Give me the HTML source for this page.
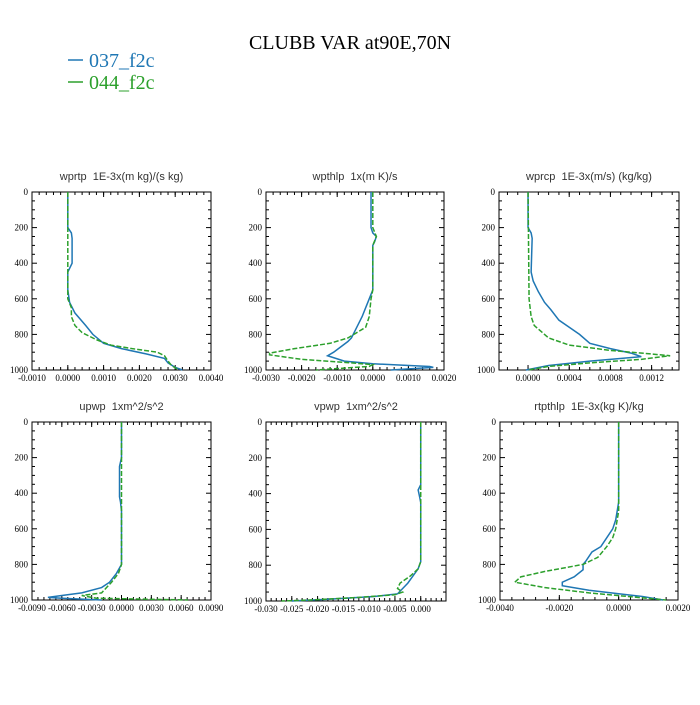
<!DOCTYPE html>
<html><head><meta charset="utf-8"><style>
body{margin:0;background:#fff;width:700px;height:700px;overflow:hidden}
svg text{font-family:"Liberation Serif",serif}
.pt{font-family:"Liberation Sans",sans-serif;font-size:11px;fill:#333;white-space:pre}
</style></head><body>
<svg id="c" width="700" height="700">
<text x="350" y="49" text-anchor="middle" font-size="20">CLUBB VAR at90E,70N</text>
<g>
<line x1="68" y1="60" x2="83" y2="60" stroke="#1f77b4" stroke-width="1.5"/>
<text x="89" y="67" font-size="20" fill="#1f77b4">037_f2c</text>
<line x1="68" y1="82" x2="83" y2="82" stroke="#2ca02c" stroke-width="1.5"/>
<text x="89" y="89" font-size="20" fill="#2ca02c">044_f2c</text>
</g>
</svg>
<script>
const panelTitles=["wprtp  1E-3x(m kg)/(s kg)","wpthlp  1x(m K)/s","wprcp  1E-3x(m/s) (kg/kg)","upwp  1xm^2/s^2","vpwp  1xm^2/s^2","rtpthlp  1E-3x(kg K)/kg"];
const xTicks=[[-0.001,0,0.001,0.002,0.003,0.004],[-0.003,-0.002,-0.001,0,0.001,0.002],[0,0.0004,0.0008,0.0012],[-0.009,-0.006,-0.003,0,0.003,0.006,0.009],[-0.030,-0.025,-0.020,-0.015,-0.010,-0.005,0],[-0.004,-0.002,0,0.002]];
const xTickLabels=[["-0.0010","0.0000","0.0010","0.0020","0.0030","0.0040"],["-0.0030","-0.0020","-0.0010","0.0000","0.0010","0.0020"],["0.0000","0.0004","0.0008","0.0012"],["-0.0090","-0.0060","-0.0030","0.0000","0.0030","0.0060","0.0090"],["-0.030","-0.025","-0.020","-0.015","-0.010","-0.005","0.000"],["-0.0040","-0.0020","0.0000","0.0020"]];
const xMinorStep=[0.0002,0.0002,0.0001,0.0006,0.001,0.0004];
const xDomains=[[-0.001,0.004],[-0.003,0.002],[-0.000282,0.001466],[-0.009,0.009],[-0.030,0.0049],[-0.004,0.002]];
const yTicks=[0,200,400,600,800,1000];
const levA=[[0,200,230,260,400,450,550,620,680,750,800,850,880,910,935,960,985,1000],
[0,200,230,250,280,300,550,600,650,700,740,780,820,840,870,900,920,950,965,980,985,1000],
[0,200,230,260,450,500,560,620,660,720,760,800,850,880,905,925,950,975,1000],
[0,200,250,300,420,450,500,800,850,900,930,960,975,985,990,1000],
[0,350,380,420,450,780,820,860,900,930,960,975,990,1000],
[0,450,500,550,600,650,700,730,780,800,830,870,900,920,945,965,980,1000]];
const valA=[[0,0,0.0001,0.00012,0.00012,0,0,0.00005,0.0002,0.0005,0.0007,0.001,0.0015,0.0022,0.0027,0.0028,0.003,0.0032],
[-0.00005,-0.00005,0,0.0001,0.00005,0,0,-0.0001,-0.0002,-0.0003,-0.0004,-0.0005,-0.0006,-0.0007,-0.0009,-0.0011,-0.00127,-0.0008,0,0.0016,0.0017,0.0005],
[0,0,0.00003,0.00004,0.00003,0.00005,0.0001,0.00016,0.00022,0.0003,0.0004,0.0005,0.0006,0.0008,0.001,0.0011,0.0006,0.0002,-0.00002],
[0,0,-0.0002,-0.0002,-0.0002,-0.0001,0,0,-0.0005,-0.0012,-0.002,-0.004,-0.006,-0.0074,-0.006,-0.002],
[0,0,-0.0005,-0.0002,0,0,-0.0005,-0.0015,-0.0025,-0.0035,-0.0045,-0.009,-0.018,-0.025],
[0,0,-0.00005,-0.0001,-0.0002,-0.0004,-0.0006,-0.0009,-0.0011,-0.0012,-0.0012,-0.0015,-0.0019,-0.0019,-0.001,0,0.0008,0.0015]];
const levB=[[0,600,650,700,750,790,830,860,880,900,920,950,975,1000],
[0,200,250,300,550,600,700,760,820,850,880,905,915,940,960,970,980,1000],
[0,600,700,750,780,820,860,890,910,920,940,960,980,1000],
[0,800,850,900,930,960,975,990,1000],
[0,780,820,860,900,930,950,965,980,995,1000],
[0,500,600,650,700,760,800,840,870,900,930,960,980,1000]];
const valB=[[0,0,0.0001,0.0001,0.0002,0.0004,0.0008,0.0012,0.0018,0.0025,0.0027,0.0028,0.0029,0.0031],
[0,0,0.0001,0,0,-0.00005,-0.0001,-0.0002,-0.0007,-0.0012,-0.0022,-0.0029,-0.0029,-0.002,-0.0006,0,-0.0001,-0.0016],
[0,0.00001,0.00003,0.00006,0.00012,0.0002,0.0004,0.0008,0.0012,0.00138,0.0011,0.0006,0.0002,0],
[0,0,-0.0003,-0.001,-0.0015,-0.002,-0.004,-0.0025,0.0067],
[0,0,-0.0005,-0.002,-0.004,-0.0045,-0.0035,-0.005,-0.012,-0.022,-0.027],
[0,0,-0.0001,-0.0002,-0.0004,-0.0007,-0.0012,-0.0025,-0.0033,-0.0035,-0.0025,-0.001,0.0003,0.0016]];
const boxes=[[32,192,179,178],[266,192,178,178],[499,192,180,178],[32,422,179,178],[266,422,180,179],[500,422,178,178]];
const NS="http://www.w3.org/2000/svg";
const svg=document.getElementById('c');
function mk(t,a,p){const e=document.createElementNS(NS,t);for(const k in a)e.setAttribute(k,a[k]);p.appendChild(e);return e;}
for(let i=0;i<6;i++){
 const [bx,by,bw,bh]=boxes[i];const [d0,d1]=xDomains[i];
 const sx=v=>bx+(v-d0)/(d1-d0)*bw, sy=v=>by+v/1000*bh;
 const g=mk('g',{},svg);
 
 
 const t=mk('text',{x:bx+bw/2,y:by-12,'text-anchor':'middle',class:'pt'},g);t.textContent=panelTitles[i];
 
 
 const ax=mk('g',{stroke:'#000','stroke-width':1},g);
 
 
 for(let v=0;v<=1000;v+=50){const y=sy(v),L=v%200==0?5:3;
  mk('line',{x1:bx,x2:bx+L,y1:y,y2:y},ax);mk('line',{x1:bx+bw,x2:bx+bw-L,y1:y,y2:y},ax);}
 yTicks.forEach(v=>{const tx=mk('text',{x:bx-4,y:sy(v)+3,'text-anchor':'end','font-size':9},g);tx.textContent=v;
  
  });
 const st=xMinorStep[i];
 for(let k=Math.ceil(d0/st-1e-6);k*st<=d1+1e-9;k++){const x=sx(k*st);
  mk('line',{x1:x,x2:x,y1:by,y2:by+3},ax);mk('line',{x1:x,x2:x,y1:by+bh,y2:by+bh-3},ax);}
 xTicks[i].forEach((v,j)=>{const x=sx(v);
  mk('line',{x1:x,x2:x,y1:by,y2:by+5},ax);mk('line',{x1:x,x2:x,y1:by+bh,y2:by+bh-5},ax);
  const tx=mk('text',{x:x,y:by+bh+11,'text-anchor':'middle','font-size':9},g);tx.textContent=xTickLabels[i][j];
  
  });
 const r=mk('rect',{x:bx,y:by,width:bw,height:bh,fill:'none',stroke:'#000','stroke-width':1},g);
 
 
 const pa=mk('polyline',{points:levA[i].map((l,j)=>sx(valA[i][j])+','+sy(l)).join(' '),fill:'none',stroke:'#1f77b4','stroke-width':1.5},g);
 
 
 const pb=mk('polyline',{points:levB[i].map((l,j)=>sx(valB[i][j])+','+sy(l)).join(' '),fill:'none',stroke:'#2ca02c','stroke-width':1.5,'stroke-dasharray':'5,2'},g);
 
 
}
</script>
</body></html>
